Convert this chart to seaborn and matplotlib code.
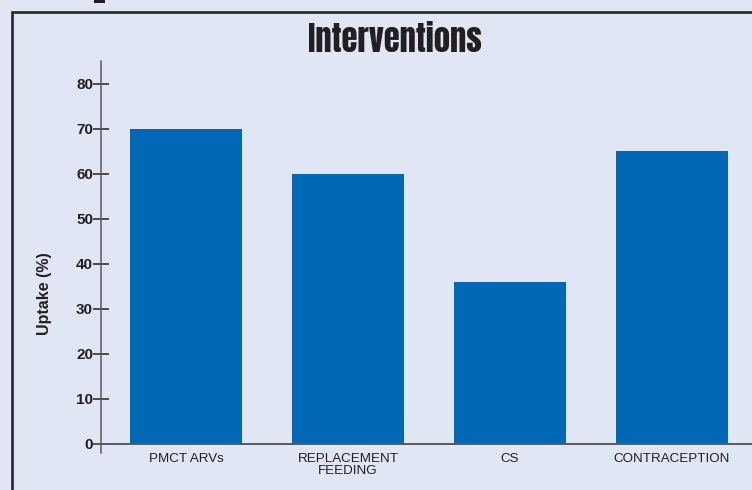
import matplotlib
matplotlib.use("Agg")
import matplotlib.pyplot as plt
from matplotlib.patches import Rectangle
import seaborn as sns
import pandas as pd

# Uptake of each intervention (%)
interventions = ["PMCT ARVs", "REPLACEMENT\nFEEDING", "CS", "CONTRACEPTION"]
uptake = [70, 60, 36, 65]
y_ticks = [0, 10, 20, 30, 40, 50, 60, 70, 80]

BG = "#E1E6F4"
BAR = "#0068B4"
INK = "#231F20"
AXIS = "#5A5A5A"

sns.set_style("white")
plt.rcParams["font.family"] = ["Liberation Sans", "DejaVu Sans"]

W, H, DPI = 752, 490, 100
fig = plt.figure(figsize=(W / DPI, H / DPI), dpi=DPI, facecolor=BG)

# axes box in pixel terms
left_px, right_px, top_px, bottom_px = 95, 752, 61, 453
ax = fig.add_axes([left_px / W, 1 - bottom_px / H,
                   (right_px - left_px) / W, (bottom_px - top_px) / H])
ax.set_facecolor(BG)

df = pd.DataFrame({"intervention": interventions, "uptake": uptake})
sns.barplot(data=df, x="intervention", y="uptake", color=BAR,
            saturation=1, width=0.69, linewidth=0, ax=ax, zorder=2)

ax.set_xlim(-0.562, 3.494)
ax.set_ylim(-2, 85.1)

# left axis line sits a little right of the axes edge
for side in ("top", "right", "bottom"):
    ax.spines[side].set_visible(False)
ax.spines["left"].set_position(("data", -0.525))
ax.spines["left"].set_color(AXIS)
ax.spines["left"].set_linewidth(1.1)
ax.axhline(0, color=AXIS, lw=1.4, zorder=3, clip_on=False)

ax.set_yticks(y_ticks)
ax.set_yticklabels([str(t) for t in y_ticks], fontsize=11, fontweight="bold",
                   color=INK)
ax.tick_params(axis="y", direction="inout", length=11.5, width=1.1,
               color=INK, pad=0, left=True)
ax.tick_params(axis="x", length=0, pad=0)
for lab in ax.get_xticklabels():
    lab.set_fontsize(9.6)
    lab.set_color(INK)
    lab.set_linespacing(0.95)

ax.set_xlabel("")
ax.set_ylabel("")
fig.text(45 / W, 1 - 294 / H, "Uptake (%)", rotation=90, ha="center",
         va="center", fontsize=11.5, fontweight="bold", color=INK)

fig.text(395 / W, 1 - 39 / H, "Interventions", ha="center", va="center",
         fontsize=23.5, color=INK,
         family=["Anton", "Oswald", "Open Sans", "DejaVu Sans"])

# panel frame running off the right and bottom edges
fig.patches.append(Rectangle((12 / W, -0.1), 1.2, 1 - 12 / H + 0.1,
                             transform=fig.transFigure, fill=False,
                             edgecolor="#2E2E2E", lw=2, zorder=0))
fig.patches.append(Rectangle((94 / W, 1 - 3 / H), 11 / W, 4 / H,
                             transform=fig.transFigure, facecolor=INK,
                             edgecolor="none"))

fig.savefig("out.png", dpi=DPI, facecolor=BG)
